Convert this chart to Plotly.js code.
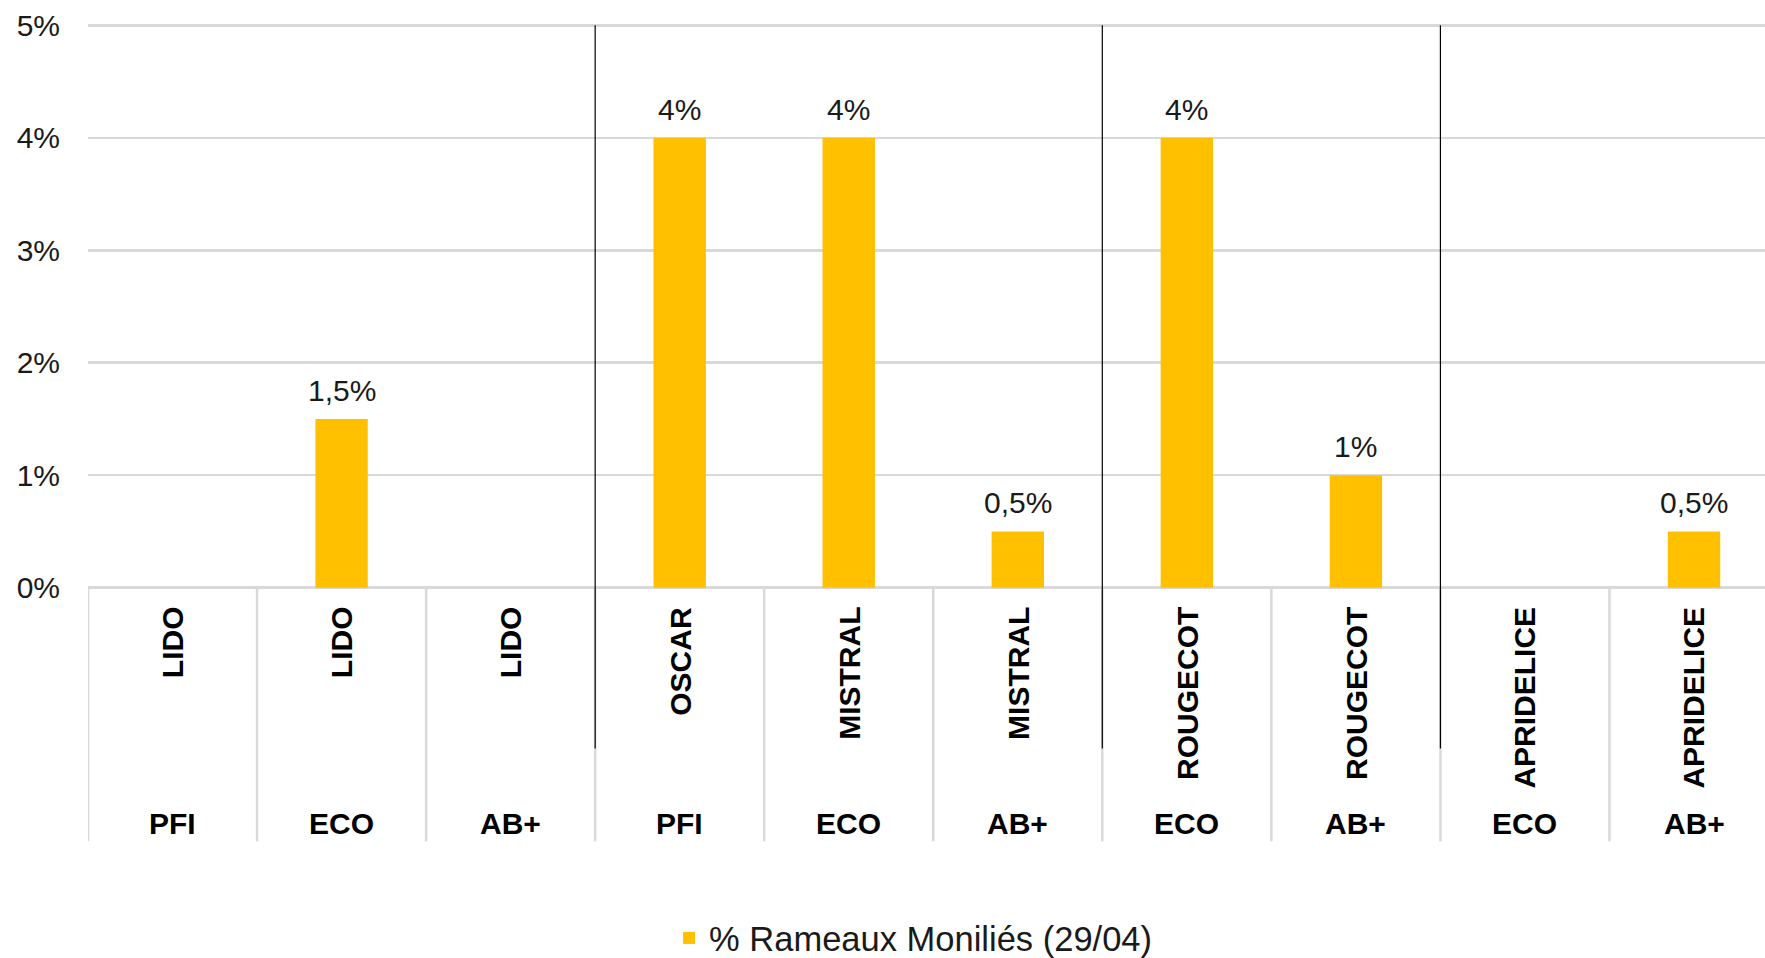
<!DOCTYPE html>
<html>
<head>
<meta charset="utf-8">
<script src="https://cdn.plot.ly/plotly-3.0.1.min.js"></script>
<style>
  html, body { margin: 0; padding: 0; background: #fff; }
  #chart { width: 1765px; height: 958px; }
</style>
</head>
<body>
<div id="chart"></div>
<script>
// ---- data ----
const varieties = ['LIDO', 'LIDO', 'LIDO', 'OSCAR', 'MISTRAL', 'MISTRAL', 'ROUGECOT', 'ROUGECOT', 'APRIDELICE', 'APRIDELICE'];
const systems   = ['PFI', 'ECO', 'AB+', 'PFI', 'ECO', 'AB+', 'ECO', 'AB+', 'ECO', 'AB+'];
const values    = [0, 1.5, 0, 4, 4, 0.5, 4, 1, 0, 0.5];
const blockSizes = [3, 3, 2, 2];           // bars per separated block
const seriesName = '% Rameaux Moniliés (29/04)';
const yTicks = [0, 1, 2, 3, 4, 5];
const yTickLabels = ['0%', '1%', '2%', '3%', '4%', '5%'];

// ---- styling ----
const FONT = 'Liberation Sans, Arial, sans-serif';
const GOLD = '#FFC000';
const GRID = '#d9d9d9';
const TXT = '#1a1a1a';

const H = 958;
const Y0PX = 588, Y5PX = 25;                 // pixel rows of 0% and 5%
const PAD = 0.03;                            // range padding so end gridlines show
const pxPerUnit = (Y0PX - Y5PX) / 5;
const TOP = Y5PX - PAD * pxPerUnit;
const BOTTOM = Y0PX + PAD * pxPerUnit;
const plotH = BOTTOM - TOP;
const pY = px => (BOTTOM - px) / plotH;      // container pixel -> paper y

const idx = values.map((_, i) => i);

const trace = {
  type: 'bar',
  x: idx,
  y: values,
  name: seriesName,
  marker: { color: GOLD },
  showlegend: true,
  hoverinfo: 'skip'
};

const annotations = [];
// data labels
values.forEach((v, i) => {
  if (v > 0) {
    annotations.push({
      x: i, y: v, xref: 'x', yref: 'y',
      text: String(v).replace('.', ',') + '%',
      showarrow: false, yanchor: 'bottom', yshift: 10,
      font: { family: FONT, size: 30, color: TXT }
    });
  }
});
// variety labels (rotated)
varieties.forEach((v, i) => {
  annotations.push({
    x: i, y: pY(605), xref: 'x', yref: 'paper',
    text: '<b>' + v + '</b>', textangle: -90,
    showarrow: false, xanchor: 'center', yanchor: 'top',
    font: { family: FONT, size: 30, color: '#000' }
  });
});
// system labels
systems.forEach((s, i) => {
  annotations.push({
    x: i, y: pY(824), xref: 'x', yref: 'paper',
    text: '<b>' + s + '</b>',
    showarrow: false, xanchor: 'center', yanchor: 'middle',
    font: { family: FONT, size: 30, color: '#000' }
  });
});

const shapes = [];
// grey category separators below axis
for (let i = 0; i <= values.length; i++) {
  shapes.push({
    type: 'line', xref: 'x', yref: 'paper',
    x0: i - 0.5, x1: i - 0.5, y0: pY(Y0PX), y1: pY(842),
    line: { color: GRID, width: 2.5 }, layer: 'below'
  });
}
// black block separators
let acc = 0;
blockSizes.slice(0, -1).forEach(n => {
  acc += n;
  shapes.push({
    type: 'line', xref: 'x', yref: 'paper',
    x0: acc - 0.5, x1: acc - 0.5, y0: pY(Y5PX), y1: pY(749),
    line: { color: '#000', width: 1.2 }, layer: 'above'
  });
});

const layout = {
  width: 1765, height: H,
  margin: { l: 88, r: 0, t: TOP, b: H - BOTTOM, autoexpand: false },
  paper_bgcolor: '#fff', plot_bgcolor: '#fff',
  bargap: 0.69,
  showlegend: true,
  legend: {
    orientation: 'h', x: 0.3465, xanchor: 'left',
    yref: 'container', y: 1 - 938 / H, yanchor: 'middle',
    font: { family: FONT, size: 34.5, color: TXT }
  },
  xaxis: {
    range: [-0.5, 9.42], showticklabels: false, showgrid: false,
    zeroline: false, showline: false, ticks: '', fixedrange: true
  },
  yaxis: {
    range: [-PAD, 5 + PAD], tickmode: 'array', tickvals: yTicks, ticktext: yTickLabels,
    showgrid: true, gridcolor: GRID, gridwidth: 2.5,
    zeroline: false, showline: false, ticks: '',
    ticklabelstandoff: 27,
    tickfont: { family: FONT, size: 30, color: TXT }, fixedrange: true
  },
  annotations: annotations,
  shapes: shapes
};

Plotly.newPlot('chart', [trace], layout, { displayModeBar: false, staticPlot: true });
</script>
</body>
</html>
